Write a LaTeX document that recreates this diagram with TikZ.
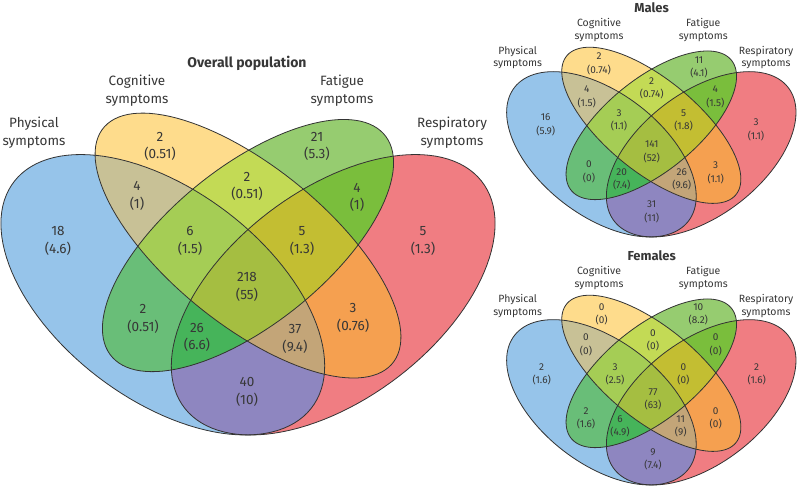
\documentclass[tikz,border=0pt]{standalone}
\usepackage{fontspec}
\setmainfont{Fira Sans}
\definecolor{txt}{RGB}{55,55,55}
\definecolor{cP}{RGB}{150,196,234}
\definecolor{cC}{RGB}{254,220,140}
\definecolor{cF}{RGB}{150,204,112}
\definecolor{cR}{RGB}{240,125,130}
\definecolor{cPC}{RGB}{200,193,150}
\definecolor{cPF}{RGB}{105,190,120}
\definecolor{cPR}{RGB}{142,134,192}
\definecolor{cCF}{RGB}{195,218,85}
\definecolor{cCR}{RGB}{245,160,80}
\definecolor{cFR}{RGB}{122,190,60}
\definecolor{cPCF}{RGB}{165,205,85}
\definecolor{cPCR}{RGB}{195,165,120}
\definecolor{cPFR}{RGB}{70,180,90}
\definecolor{cCFR}{RGB}{195,190,50}
\definecolor{cAll}{RGB}{165,190,65}
\tikzset{
  outl/.style={draw=black!80, line width=0.8pt},
  ttl/.style={font=\fontsize{14}{17}\selectfont\bfseries, text=txt, inner sep=0pt},
  setlab/.style={font=\fontsize{13.5}{17.7}\selectfont, align=center, text=txt, inner sep=0pt},
  num/.style={font=\fontsize{13.5}{17.7}\selectfont, align=center, text=txt, inner sep=0pt},
  sttl/.style={font=\fontsize{13}{15}\selectfont\bfseries, text=txt, inner sep=0pt},
  ssetlab/.style={font=\fontsize{10.5}{12.7}\selectfont, align=center, text=txt, inner sep=0pt},
  snum/.style={font=\fontsize{10}{13.4}\selectfont, align=center, text=txt, inner sep=0pt}
}
\newcommand\vP{plot[domain=0:360,samples=121] ({-0.15+0.35*cos(\x)*cos(135)-0.2*sin(\x)*sin(135)},{-0.03+0.35*cos(\x)*sin(135)+0.2*sin(\x)*cos(135)}) -- cycle}
\newcommand\vC{plot[domain=0:360,samples=121] ({0.35*cos(\x)*cos(135)-0.15*sin(\x)*sin(135)},{0.07+0.35*cos(\x)*sin(135)+0.15*sin(\x)*cos(135)}) -- cycle}
\newcommand\vF{plot[domain=0:360,samples=121] ({0.33*cos(\x)*cos(45)-0.15*sin(\x)*sin(45)},{0.07+0.33*cos(\x)*sin(45)+0.15*sin(\x)*cos(45)}) -- cycle}
\newcommand\vR{plot[domain=0:360,samples=121] ({0.15+0.35*cos(\x)*cos(45)-0.2*sin(\x)*sin(45)},{-0.03+0.35*cos(\x)*sin(45)+0.2*sin(\x)*cos(45)}) -- cycle}
\newcommand\rf[2]{\begin{scope}#1\fill[#2] (-1,-1) rectangle (1,1);\end{scope}}
\newcommand\vennbody{%
  \rf{\clip\vP;}{cP}
  \rf{\clip\vC;}{cC}
  \rf{\clip\vF;}{cF}
  \rf{\clip\vR;}{cR}
  \rf{\clip\vP;\clip\vC;}{cPC}
  \rf{\clip\vP;\clip\vF;}{cPF}
  \rf{\clip\vP;\clip\vR;}{cPR}
  \rf{\clip\vC;\clip\vF;}{cCF}
  \rf{\clip\vC;\clip\vR;}{cCR}
  \rf{\clip\vF;\clip\vR;}{cFR}
  \rf{\clip\vP;\clip\vC;\clip\vF;}{cPCF}
  \rf{\clip\vP;\clip\vC;\clip\vR;}{cPCR}
  \rf{\clip\vP;\clip\vF;\clip\vR;}{cPFR}
  \rf{\clip\vC;\clip\vF;\clip\vR;}{cCFR}
  \rf{\clip\vP;\clip\vC;\clip\vF;\clip\vR;}{cAll}
  \draw[outl] \vP;
  \draw[outl] \vC;
  \draw[outl] \vF;
  \draw[outl] \vR;
}
\begin{document}
\begin{tikzpicture}[x=1pt,y=-1pt]
\useasboundingbox[fill=white] (0,0) rectangle (797,487);
% ---------- diagrams ----------
\begin{scope}[shift={(248,280)}, x=568pt, y=492pt]
  \vennbody
\end{scope}
\begin{scope}[shift={(651.3,145.6)}, x=332.6pt, y=290pt]
  \vennbody
\end{scope}
\begin{scope}[shift={(651.3,393.6)}, x=332.6pt, y=290pt]
  \vennbody
\end{scope}
% ---------- overall ----------
\node[ttl] (o-title) at (247,63) {Overall population};
\node[setlab] (o-lp) at (34,132.5) {Physical\\symptoms};
\node[setlab] (o-lc) at (137,91) {Cognitive\\symptoms};
\node[setlab] (o-lf) at (342,91) {Fatigue\\symptoms};
\node[setlab] (o-lr) at (452,133) {Respiratory\\symptoms};
\node[num] (o-p) at (58,241) {18\\(4.6)};
\node[num] (o-c) at (160,146.5) {2\\(0.51)};
\node[num] (o-f) at (317,146.5) {21\\(5.3)};
\node[num] (o-r) at (423,241) {5\\(1.3)};
\node[num] (o-pc) at (137,196) {4\\(1)};
\node[num] (o-cf) at (247,186.5) {2\\(0.51)};
\node[num] (o-fr) at (357,197.5) {4\\(1)};
\node[num] (o-pcf) at (190,241) {6\\(1.5)};
\node[num] (o-cfr) at (302,241) {5\\(1.3)};
\node[num] (o-all) at (247,287) {218\\(55)};
\node[num] (o-pf) at (143,319) {2\\(0.51)};
\node[num] (o-cr) at (353,318) {3\\(0.76)};
\node[num] (o-pfr) at (197,337.5) {26\\(6.6)};
\node[num] (o-pcr) at (295,339) {37\\(9.4)};
\node[num] (o-pr) at (247,392) {40\\(10)};
% ---------- males ----------
\node[sttl] (m-title) at (651.7,7.3) {Males};
\node[ssetlab] (m-lp) at (517.7,57.5) {Physical\\symptoms};
\node[ssetlab] (m-lc) at (599,30.3) {Cognitive\\symptoms};
\node[ssetlab] (m-lf) at (703.3,30.3) {Fatigue\\symptoms};
\node[ssetlab] (m-lr) at (766,57.5) {Respiratory\\symptoms};
\node[snum] (m-c) at (599,64) {2\\(0.74)};
\node[snum] (m-f) at (699,67.3) {11\\(4.1)};
\node[snum] (m-p) at (545.7,124.7) {16\\(5.9)};
\node[snum] (m-r) at (756,129.7) {3\\(1.1)};
\node[snum] (m-pc) at (586.7,96.7) {4\\(1.5)};
\node[snum] (m-cf) at (651.7,88.3) {2\\(0.74)};
\node[snum] (m-fr) at (715.3,97) {4\\(1.5)};
\node[snum] (m-pcf) at (619,120.3) {3\\(1.1)};
\node[snum] (m-cfr) at (683.7,120.3) {5\\(1.8)};
\node[snum] (m-all) at (651.7,151.7) {141\\(52)};
\node[snum] (m-pf) at (589,172) {0\\(0)};
\node[snum] (m-cr) at (715.7,172.7) {3\\(1.1)};
\node[snum] (m-pfr) at (621.7,179.5) {20\\(7.4)};
\node[snum] (m-pcr) at (681.7,179.5) {26\\(9.6)};
\node[snum] (m-pr) at (651.7,212) {31\\(11)};
% ---------- females ----------
\node[sttl] (f-title) at (651.7,255.7) {Females};
\node[ssetlab] (f-lp) at (517.7,305.7) {Physical\\symptoms};
\node[ssetlab] (f-lc) at (599,278) {Cognitive\\symptoms};
\node[ssetlab] (f-lf) at (703.3,278) {Fatigue\\symptoms};
\node[ssetlab] (f-lr) at (766,305.7) {Respiratory\\symptoms};
\node[snum] (f-c) at (601.7,314.2) {0\\(0)};
\node[snum] (f-f) at (698.3,314.2) {10\\(8.2)};
\node[snum] (f-p) at (541.7,374.2) {2\\(1.6)};
\node[snum] (f-r) at (756.7,374.2) {2\\(1.6)};
\node[snum] (f-pc) at (586,345) {0\\(0)};
\node[snum] (f-cf) at (653,340.3) {0\\(0)};
\node[snum] (f-fr) at (715.7,345) {0\\(0)};
\node[snum] (f-pcf) at (615,374.2) {3\\(2.5)};
\node[snum] (f-cfr) at (683.3,374.2) {0\\(0)};
\node[snum] (f-all) at (653,399.3) {77\\(63)};
\node[snum] (f-pf) at (586,418.3) {2\\(1.6)};
\node[snum] (f-cr) at (715.7,418.3) {0\\(0)};
\node[snum] (f-pfr) at (620,426.3) {6\\(4.9)};
\node[snum] (f-pcr) at (680.7,426.3) {11\\(9)};
\node[snum] (f-pr) at (653,459.5) {9\\(7.4)};
\end{tikzpicture}
\end{document}
